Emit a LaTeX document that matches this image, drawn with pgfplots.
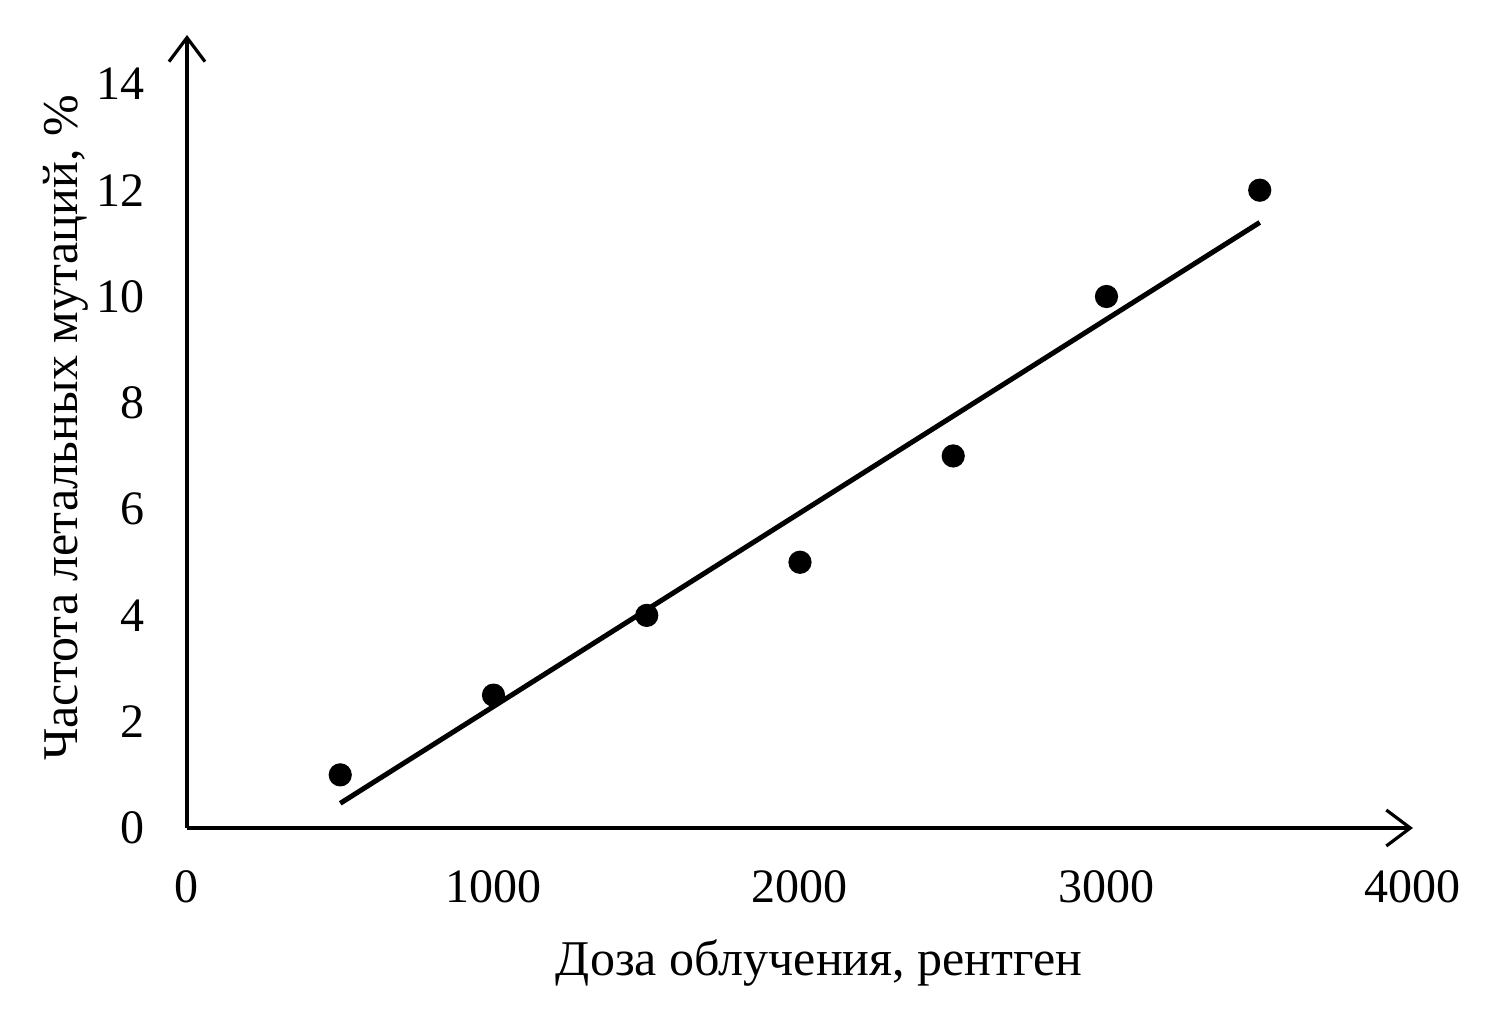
\documentclass[border=0pt]{standalone}
\usepackage{fontspec}
\setmainfont{Liberation Serif}
\usepackage{pgfplots}
\pgfplotsset{compat=1.18}
\usetikzlibrary{arrows.meta}
\begin{document}
\fontsize{12pt}{14pt}\selectfont
\begin{tikzpicture}[x=1pt,y=1pt]
\path[use as bounding box] (-46.75,-49.5) rectangle (328.25,207);
\begin{axis}[
  at={(0,0)}, anchor=south west, scale only axis,
  width=306.5pt, height=198.25pt,
  xmin=0, xmax=4000, ymin=0, ymax=14.92,
  axis lines=left,
  axis line style={line width=0.8pt, -{Straight Barb[length=6pt,width=9pt,line width=0.8pt]}},
  xtick={0,1000,2000,3000,4000}, ytick={0,2,...,14},
  major tick length=0pt,
  scaled x ticks=false,
  /pgf/number format/assume math mode=true,
  /pgf/number format/1000 sep={},
  tick label style={font=\fontsize{12pt}{14pt}\selectfont},
  xticklabel style={yshift=-6.5pt},
  yticklabel style={xshift=-6.5pt},
  xlabel={Доза облучения, рентген},
  ylabel={Частота летальных мутаций, \%},
  label style={font=\fontsize{12.5pt}{14pt}\selectfont},
  xlabel style={at={(axis description cs:0.5155,-0.1854)}, anchor=base},
  ylabel style={at={(axis description cs:-0.0897,0.5044)}, anchor=base, rotate=0},
  clip=false,
]
\addplot[only marks, mark=*, mark size=2.7pt, black] coordinates {
  (500,1) (1000,2.5) (1500,4) (2000,5) (2500,7) (3000,10) (3500,12)
};
\addplot[black, line width=1.25pt] coordinates {(500,0.464) (3500,11.393)};
\end{axis}
\end{tikzpicture}
\end{document}
